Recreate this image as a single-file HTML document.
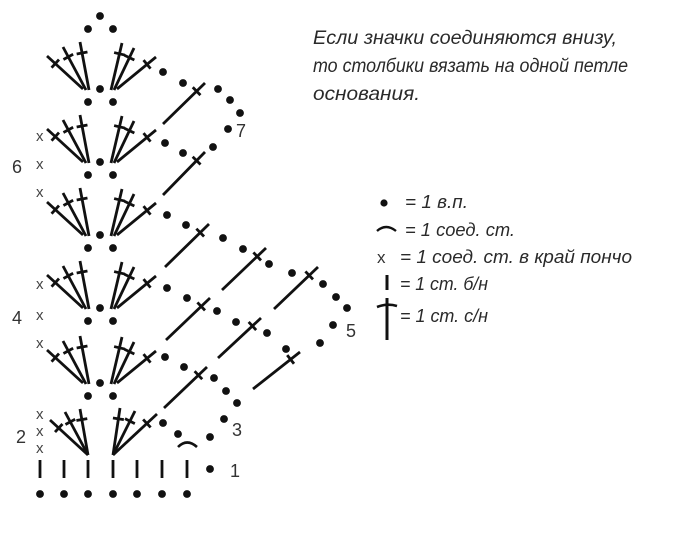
<!DOCTYPE html>
<html><head><meta charset="utf-8"><style>
html,body{margin:0;padding:0;background:#fff;}
svg{display:block;}
.t{font-family:"Liberation Sans Narrow","Liberation Sans",sans-serif;font-style:italic;fill:#2a2a2a;}
.n{font-family:"Liberation Sans",sans-serif;fill:#333;}
</style></head><body>
<svg width="690" height="542" viewBox="0 0 690 542" xmlns="http://www.w3.org/2000/svg">
<g id="chart" stroke="#111" stroke-width="2.8" stroke-linecap="butt" fill="none"></g>
<g id="dots" fill="#111"></g>
<path d="M178,447 Q187,438 197,447" stroke="#111" stroke-width="2.6" fill="none"/>
<g class="n" font-size="15" style="fill:#444">
<text x="36" y="141">x</text><text x="36" y="169">x</text><text x="36" y="197">x</text>
<text x="36" y="289">x</text><text x="36" y="320">x</text><text x="36" y="348">x</text>
<text x="36" y="419">x</text><text x="36" y="436">x</text><text x="36" y="453">x</text>
</g>
<g class="n" font-size="18">
<text x="236" y="137">7</text><text x="12" y="173">6</text><text x="346" y="337">5</text>
<text x="12" y="324">4</text><text x="232" y="436">3</text><text x="16" y="443">2</text>
<text x="230" y="477">1</text>
</g>
<g class="t" font-size="19">
<text x="313" y="44" textLength="304" lengthAdjust="spacingAndGlyphs">Если значки соединяются внизу,</text>
<text x="313" y="72" textLength="315" lengthAdjust="spacingAndGlyphs">то столбики вязать на одной петле</text>
<text x="313" y="100" textLength="107" lengthAdjust="spacingAndGlyphs">основания.</text>
</g>
<g class="t" font-size="18">
<text x="405" y="208" textLength="63" lengthAdjust="spacingAndGlyphs">= 1 в.п.</text>
<text x="405" y="236" textLength="110" lengthAdjust="spacingAndGlyphs">= 1 соед. ст.</text>
<text x="400" y="263" textLength="232" lengthAdjust="spacingAndGlyphs">= 1 соед. ст. в край пончо</text>
<text x="400" y="290" textLength="88" lengthAdjust="spacingAndGlyphs">= 1 ст. б/н</text>
<text x="400" y="322" textLength="88" lengthAdjust="spacingAndGlyphs">= 1 ст. с/н</text>
</g>
<circle cx="384" cy="203" r="3.6" fill="#111"/>
<path d="M377,231 Q386,223 396,231" stroke="#111" stroke-width="2.4" fill="none"/>
<text class="n" x="377" y="263" font-size="17">x</text>
<line x1="387" y1="275" x2="387" y2="290" stroke="#111" stroke-width="3"/>
<line x1="387" y1="298" x2="387" y2="340" stroke="#111" stroke-width="3"/>
<path d="M377,307 Q387,303 397,306" stroke="#111" stroke-width="2.6" fill="none"/>
</svg>
<script>
var NS="http://www.w3.org/2000/svg";
var g=document.getElementById('chart'),d=document.getElementById('dots');
function L(x1,y1,x2,y2){var l=document.createElementNS(NS,'line');l.setAttribute('x1',x1);l.setAttribute('y1',y1);l.setAttribute('x2',x2);l.setAttribute('y2',y2);g.appendChild(l);}
function D(x,y){var c=document.createElementNS(NS,'circle');c.setAttribute('cx',x);c.setAttribute('cy',y);c.setAttribute('r',3.9);d.appendChild(c);}
function DC(bx,by,tx,ty,f){f=f||0.23;L(bx,by,tx,ty);var dx=tx-bx,dy=ty-by,len=Math.hypot(dx,dy);var cx=tx-dx*f,cy=ty-dy*f;var px=-dy/len*5.5,py=dx/len*5.5;L(cx-px,cy-py,cx+px,cy+py);}
D(100,16);D(88,29);D(113,29);
[102,175,248,321,396].forEach(function(yb){
 D(88,yb);D(113,yb);D(100,yb-13);
 DC(83,yb-13,47,yb-46);DC(86,yb-12,63,yb-55);DC(89,yb-12,80,yb-60);
 DC(111,yb-12,122,yb-59);DC(114,yb-12,134,yb-54);DC(117,yb-13,156,yb-45);
});
DC(88,455,50,420);DC(88,455,65,412);DC(88,455,80,409);
DC(113,455,120,408);DC(113,455,135,411);DC(113,455,157,414);
[40,64,88,113,137,162,187].forEach(function(x){L(x,460,x,478);D(x,494);});
D(210,469);
[[163,124,205,83],[163,195,205,152],[165,267,209,224],[222,290,266,248],[274,309,318,267],
 [166,340,210,298],[218,358,261,318],[253,389,300,352],[164,408,207,367]].forEach(function(a){DC(a[0],a[1],a[2],a[3],0.2);});
[[163,72],[183,83],[218,89],[230,100],[240,113],[228,129],
 [165,143],[183,153],[213,147],
 [167,215],[186,225],[223,238],[243,249],[269,264],[292,273],[323,284],[336,297],[347,308],[333,325],[320,343],
 [167,288],[187,298],[217,311],[236,322],[267,333],[286,349],
 [165,357],[184,367],[214,378],[226,391],[237,403],
 [163,423],[178,434],[210,437],[224,419]].forEach(function(p){D(p[0],p[1]);});
</script>
</body></html>
